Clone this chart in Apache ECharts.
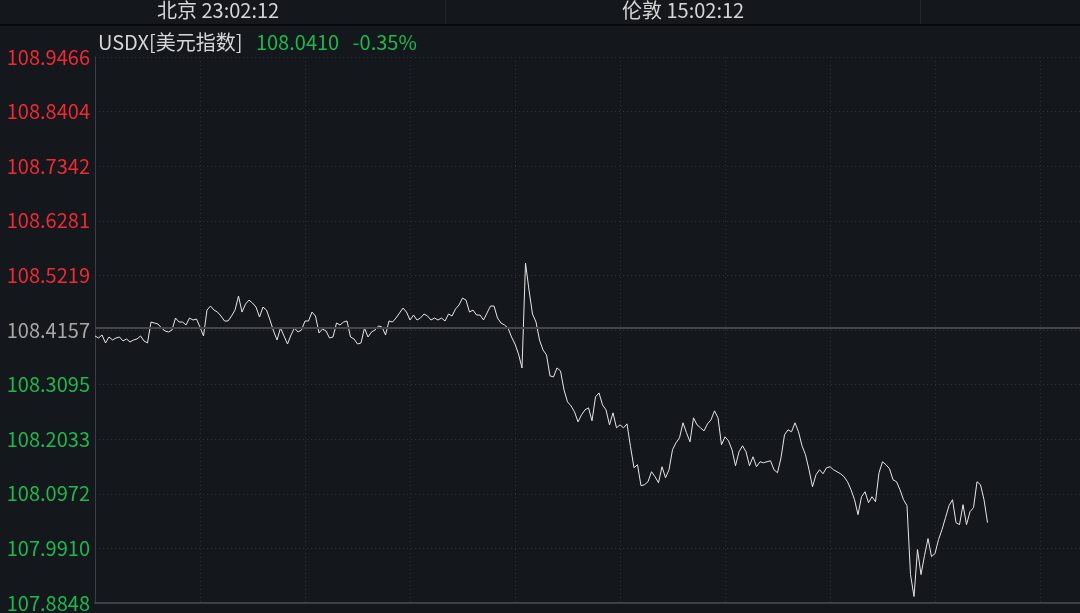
<!DOCTYPE html>
<html>
<head>
<meta charset="utf-8">
<script src="https://cdn.jsdelivr.net/npm/echarts@6/dist/echarts.min.js"></script>
<style>
html,body{margin:0;padding:0;background:#14171c;}
#chart{width:1080px;height:613px;}
</style>
</head>
<body>
<div id="chart"></div>
<script>
// ---- data ----
const symbolName = 'USDX[美元指数]';
const lastPrice = '108.0410';
const changePct = '-0.35%';
const clockBeijing = '北京 23:02:12';
const clockLondon = '伦敦 15:02:12';
const prevClose = 108.4157;
const axisMin = 107.8848;
const axisMax = 108.9466;
const axisStep = 0.10618;
const minutesPerPoint = 4;        // sampling step of the price series (minutes)
const visibleMinutes = 1125.7;    // part of the 24h day visible in the picture
const gridStepMinutes = 120;

const prices = [
108.4041,108.4002,108.4060,108.3905,108.4021,108.3963,108.4002,108.4021,108.3944,108.3982,
108.3924,108.3963,108.3982,108.4041,108.3944,108.3905,108.4312,108.4293,108.4273,108.4196,
108.4138,108.4118,108.4157,108.4390,108.4312,108.4312,108.4254,108.4390,108.4351,108.4371,
108.4215,108.4041,108.4545,108.4623,108.4545,108.4506,108.4429,108.4332,108.4332,108.4429,
108.4545,108.4817,108.4506,108.4662,108.4739,108.4681,108.4603,108.4409,108.4603,108.4545,
108.4351,108.4138,108.3963,108.4196,108.4041,108.3885,108.4060,108.4196,108.4118,108.4157,
108.4332,108.4332,108.4506,108.4429,108.4099,108.4176,108.4138,108.4002,108.4021,108.4293,
108.4254,108.4312,108.4332,108.4021,108.3982,108.3885,108.3905,108.4196,108.4021,108.4118,
108.4157,108.4235,108.4215,108.4060,108.4332,108.4312,108.4390,108.4487,108.4584,108.4506,
108.4351,108.4448,108.4351,108.4390,108.4468,108.4429,108.4351,108.4390,108.4351,108.4390,
108.4332,108.4468,108.4429,108.4565,108.4642,108.4778,108.4739,108.4506,108.4545,108.4448,
108.4448,108.4351,108.4487,108.4623,108.4623,108.4390,108.4293,108.4254,108.4196,108.4021,
108.3885,108.3691,108.3419,108.5458,108.4933,108.4468,108.4312,108.3963,108.3769,108.3672,
108.3264,108.3245,108.3419,108.3361,108.2992,108.2759,108.2682,108.2565,108.2371,108.2507,
108.2604,108.2643,108.2391,108.2856,108.2934,108.2701,108.2604,108.2313,108.2546,108.2255,
108.2313,108.2255,108.2332,108.1886,108.1478,108.1537,108.1129,108.1148,108.1207,108.1401,
108.1304,108.1187,108.1498,108.1284,108.1439,108.1828,108.1964,108.2061,108.2352,108.2158,
108.1983,108.2449,108.2313,108.2255,108.2196,108.2332,108.2410,108.2585,108.2449,108.1925,
108.2080,108.2002,108.1828,108.1517,108.1789,108.1905,108.1789,108.1517,108.1692,108.1498,
108.1595,108.1575,108.1595,108.1614,108.1439,108.1381,108.1672,108.2119,108.2216,108.2177,
108.2352,108.2177,108.1905,108.1731,108.1439,108.1109,108.1342,108.1439,108.1362,108.1478,
108.1498,108.1439,108.1401,108.1362,108.1304,108.1207,108.1051,108.0857,108.0566,108.0915,
108.1012,108.0799,108.0915,108.0818,108.1381,108.1595,108.1537,108.1459,108.1245,108.1207,
108.1051,108.0857,108.0741,107.9401,107.8974,107.9887,107.9401,107.9770,108.0100,107.9751,
107.9809,108.0081,108.0275,108.0508,108.0741,108.0857,108.0411,108.0372,108.0760,108.0372,
108.0624,108.0702,108.1207,108.1148,108.0857,108.0410
];

// ---- chart ----
const seriesData = prices.map((p, i) => [i * minutesPerPoint, p]);
const chart = echarts.init(document.getElementById('chart'), null, {renderer: 'canvas'});
const FONT = '"Noto Sans CJK SC", "Noto Sans", sans-serif';
const RED = '#ef2a33', GREEN = '#1aba4c', NEUTRAL = '#a8a8a8';

chart.setOption({
  backgroundColor: '#14171c',
  animation: false,
  title: {
    left: 93, top: 27,
    text: '{n|' + symbolName + '}   {p|' + lastPrice + '}   {c|' + changePct + '}',
    textStyle: {
      fontFamily: FONT, fontWeight: 'normal', fontSize: 20,
      rich: {
        n: {color: '#d6d6d6', fontSize: 20, fontFamily: FONT, fontWeight: 'normal'},
        p: {color: GREEN, fontSize: 20, fontFamily: FONT, fontWeight: 'normal'},
        c: {color: GREEN, fontSize: 20, fontFamily: FONT, fontWeight: 'normal'}
      }
    }
  },
  graphic: [
    {type: 'line', shape: {x1: 0, y1: 25, x2: 1080, y2: 25}, style: {stroke: '#08090b', lineWidth: 2}, silent: true},
    {type: 'line', shape: {x1: 445.5, y1: 0, x2: 445.5, y2: 24}, style: {stroke: '#24272c', lineWidth: 1}, silent: true},
    {type: 'line', shape: {x1: 920.5, y1: 0, x2: 920.5, y2: 24}, style: {stroke: '#24272c', lineWidth: 1}, silent: true},
    {type: 'text', left: 157, top: 0, style: {text: clockBeijing, fill: '#d6d6d6', font: '20px ' + FONT}},
    {type: 'text', left: 622, top: 0, style: {text: clockLondon, fill: '#d6d6d6', font: '20px ' + FONT}}
  ],
  grid: {left: 95, right: 0, top: 57, bottom: 9, containLabel: false},
  xAxis: {
    type: 'value', min: 0, max: visibleMinutes, interval: gridStepMinutes,
    axisLine: {show: true, lineStyle: {color: '#3e4147', width: 2}},
    axisTick: {show: false}, axisLabel: {show: false},
    splitLine: {show: true, lineStyle: {color: '#2b2f36', type: [1, 3], width: 1}}
  },
  yAxis: {
    type: 'value', min: axisMin, max: axisMax, interval: axisStep,
    axisLine: {show: true, lineStyle: {color: '#3a3d43', width: 1}},
    axisTick: {show: false},
    splitLine: {show: true, lineStyle: {color: '#2b2f36', type: [1, 3], width: 1}},
    axisLabel: {
      fontFamily: FONT, fontSize: 20, margin: 5,
      formatter: v => Number(v).toFixed(4),
      color: v => {
        const d = Number(v) - prevClose;
        if (Math.abs(d) < 1e-4) return NEUTRAL;
        return d > 0 ? RED : GREEN;
      }
    }
  },
  series: [{
    type: 'line', data: seriesData, showSymbol: false, symbol: 'none',
    lineStyle: {color: '#e6e6e6', width: 1}, clip: true,
    markLine: {
      silent: true, symbol: 'none', label: {show: false},
      data: [
        {yAxis: prevClose, lineStyle: {color: '#45464a', width: 2, type: 'solid'}},
        {yAxis: axisMax, lineStyle: {color: '#30333a', width: 1, type: 'solid'}}
      ]
    }
  }]
});
</script>
</body>
</html>
